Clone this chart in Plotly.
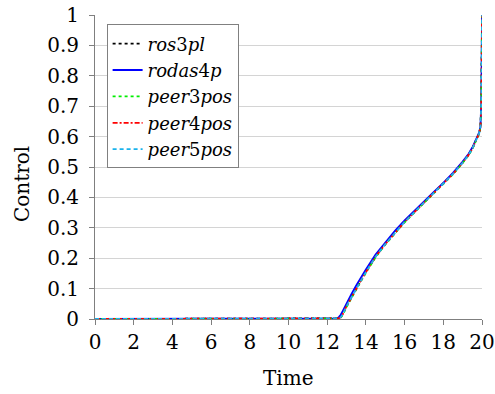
import plotly.graph_objects as go

time = [0, 2, 4, 6, 8, 10, 12, 12.5, 12.6, 12.7, 12.8, 13.0, 13.25, 13.5, 13.75, 14.0, 14.5, 15.0,
        15.5, 16.0, 16.5, 17.0, 17.5, 18.0, 18.5, 19.0, 19.3, 19.5, 19.7, 19.85, 19.92, 19.96, 19.99, 20.0]

ros3pl = [0, 0, 0, 0, 0, 0, 0, 0, 0.002, 0.007, 0.016, 0.043, 0.073, 0.101, 0.128, 0.155, 0.206, 0.247,
          0.285, 0.32, 0.352, 0.383, 0.414, 0.445, 0.478, 0.515, 0.54, 0.561, 0.589, 0.611, 0.631, 0.7, 0.9, 1.0]
rodas4p = [0, 0, 0, 0, 0, 0, 0, 0.002, 0.006, 0.014, 0.026, 0.052, 0.082, 0.11, 0.137, 0.163, 0.212, 0.252,
           0.29, 0.324, 0.356, 0.387, 0.417, 0.448, 0.481, 0.518, 0.543, 0.564, 0.592, 0.613, 0.633, 0.71, 0.9, 1.0]
peer3pos = [0, 0, 0, 0, 0, 0, 0, 0, 0.001, 0.005, 0.013, 0.04, 0.07, 0.098, 0.125, 0.152, 0.203, 0.245,
            0.283, 0.318, 0.35, 0.381, 0.412, 0.443, 0.476, 0.513, 0.538, 0.559, 0.587, 0.609, 0.629, 0.7, 0.9, 1.0]
peer4pos = [0, 0, 0, 0, 0, 0, 0, 0, 0.002, 0.006, 0.015, 0.042, 0.072, 0.1, 0.127, 0.154, 0.205, 0.246,
            0.284, 0.319, 0.351, 0.382, 0.413, 0.444, 0.477, 0.514, 0.539, 0.56, 0.588, 0.61, 0.63, 0.7, 0.9, 1.0]
peer5pos = [0, 0, 0, 0, 0, 0, 0, 0, 0.002, 0.006, 0.015, 0.042, 0.072, 0.1, 0.127, 0.154, 0.205, 0.246,
            0.284, 0.319, 0.351, 0.382, 0.413, 0.444, 0.477, 0.514, 0.539, 0.56, 0.588, 0.61, 0.63, 0.7, 0.9, 1.0]

yticks = [0, 0.1, 0.2, 0.3, 0.4, 0.5, 0.6, 0.7, 0.8, 0.9, 1]
ytick_labels = ["0", "0.1", "0.2", "0.3", "0.4", "0.5", "0.6", "0.7", "0.8", "0.9", "1"]
xticks = [0, 2, 4, 6, 8, 10, 12, 14, 16, 18, 20]

series = [
    ("<i>ros</i>3<i>pl</i>", ros3pl, "#000000", "3px,3px"),
    ("<i>rodas</i>4<i>p</i>", rodas4p, "#0000ff", "solid"),
    ("<i>peer</i>3<i>pos</i>", peer3pos, "#00ee00", "dot"),
    ("<i>peer</i>4<i>pos</i>", peer4pos, "#ff0000", "5px,2px,2px,2px"),
    ("<i>peer</i>5<i>pos</i>", peer5pos, "#19b2ec", "4px,3px"),
]

FONT = "DejaVu Serif"

fig = go.Figure()
for name, vals, color, dash in series:
    fig.add_trace(go.Scatter(x=time, y=vals, mode="lines", name=name,
                             line=dict(color=color, dash=dash, width=1.8),
                             cliponaxis=False))

fig.update_layout(
    width=495, height=394,
    margin=dict(l=95, r=13, t=14.5, b=74.5, autoexpand=False),
    plot_bgcolor="white", paper_bgcolor="white",
    font=dict(family=FONT, size=20, color="black"),
    showlegend=True,
    legend=dict(x=0.03, y=0.969, xanchor="left", yanchor="top",
                bgcolor="white", bordercolor="#808080", borderwidth=1,
                font=dict(family=FONT, size=18), itemwidth=30,
                tracegroupgap=0),
    xaxis=dict(range=[0, 20], tickvals=xticks, showgrid=False, zeroline=False,
               showline=True, linecolor="#7f7f7f", linewidth=1, automargin=False,
               ticks="outside", ticklen=5, tickcolor="#7f7f7f",
               tickfont=dict(family=FONT, size=20)),
    yaxis=dict(range=[0, 1], tickvals=yticks, ticktext=ytick_labels,
               showgrid=True, gridcolor="#d4d4d4", gridwidth=1, zeroline=False,
               showline=True, linecolor="#7f7f7f", linewidth=1, automargin=False,
               ticks="outside", ticklen=5, tickcolor="#7f7f7f",
               ticklabelstandoff=6,
               tickfont=dict(family=FONT, size=20)),
    annotations=[
        dict(text="Control", xref="paper", yref="paper", x=-0.1886, y=0.444,
             xanchor="center", yanchor="middle", textangle=-90, showarrow=False,
             font=dict(family=FONT, size=20)),
        dict(text="Time", xref="paper", yref="paper", x=0.5, y=-0.195,
             xanchor="center", yanchor="middle", showarrow=False,
             font=dict(family=FONT, size=20)),
    ],
)

fig.write_html("out.html", config={"displayModeBar": False},
               post_script="document.body.style.margin='0';document.body.style.overflow='hidden';")
